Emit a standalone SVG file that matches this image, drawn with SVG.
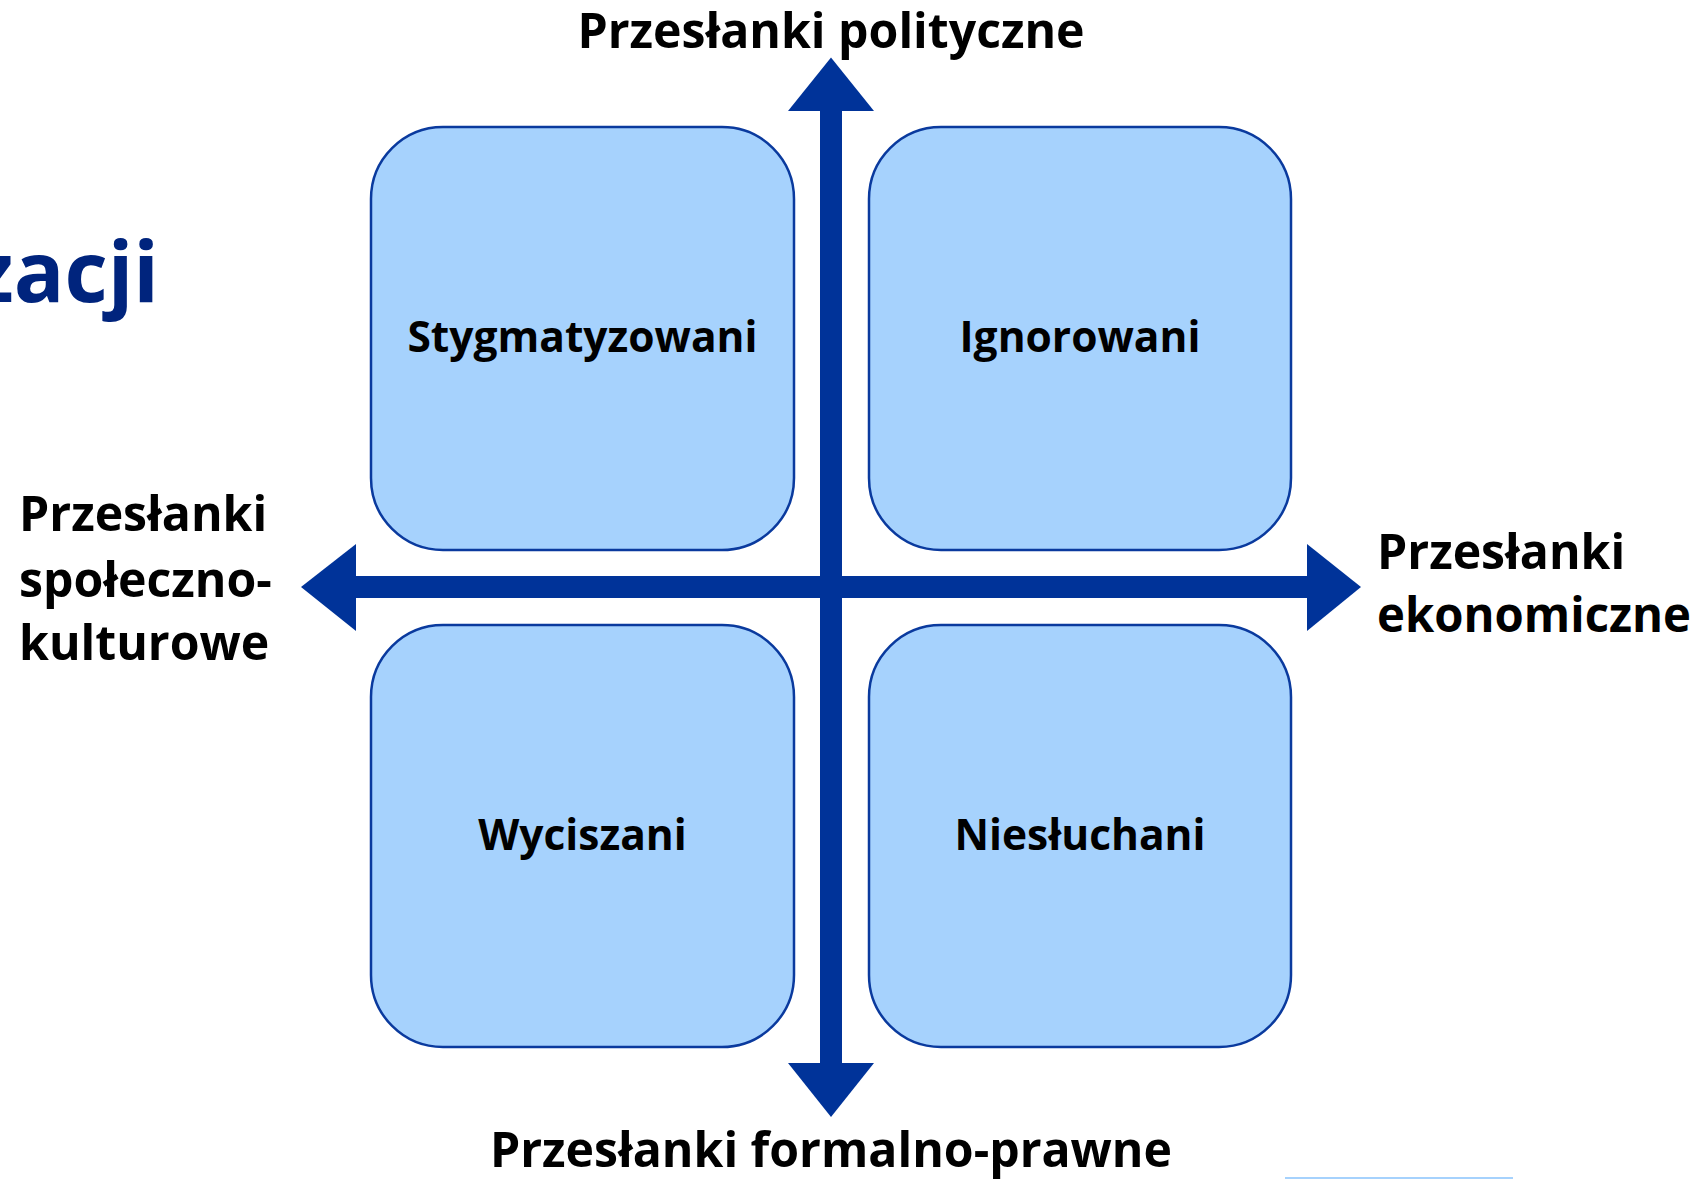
<svg xmlns="http://www.w3.org/2000/svg" width="1707" height="1179" viewBox="0 0 1707 1179">
<style>
.box{fill:#a6d2fd;stroke:#0a3a9e;stroke-width:2.5}
.lbl{font-family:"Open Sans","Noto Sans",sans-serif;font-weight:700;font-size:42.5px;fill:#000;text-anchor:middle}
.ax{font-family:"Open Sans","Noto Sans",sans-serif;font-weight:700;font-size:48.2px;fill:#000}
.arr{fill:#003399}
</style>
<rect width="1707" height="1179" fill="#fff"/>
<text x="159" y="302" style="font-family:'Open Sans','Noto Sans',sans-serif;font-weight:700;font-size:84px;fill:#00247d" text-anchor="end">zacji</text>
<g id="n-stygmatyzowani"><rect class="box" x="371" y="127" width="423" height="423" rx="72"/><text class="lbl" x="582.5" y="352">Stygmatyzowani</text></g>
<g id="n-ignorowani"><rect class="box" x="869" y="127" width="422" height="423" rx="72"/><text class="lbl" x="1080" y="352">Ignorowani</text></g>
<g id="n-wyciszani"><rect class="box" x="371" y="625" width="423" height="422" rx="72"/><text class="lbl" x="582.5" y="850">Wyciszani</text></g>
<g id="n-niesluchani"><rect class="box" x="869" y="625" width="422" height="422" rx="72"/><text class="lbl" x="1080" y="850">Niesłuchani</text></g>
<g id="connectors">
<rect class="arr" x="820" y="110" width="22" height="955"/>
<polygon class="arr" points="831,57.5 874,111 788,111"/>
<polygon class="arr" points="831,1117 874,1063 788,1063"/>
<rect class="arr" x="355" y="576" width="953" height="22"/>
<polygon class="arr" points="301,587 356,544 356,631"/>
<polygon class="arr" points="1361,587 1307,544 1307,631"/>
</g>
<g id="axis-labels">
<text class="ax" x="831" y="48" text-anchor="middle">Przesłanki polityczne</text>
<text class="ax" x="831" y="1167" text-anchor="middle">Przesłanki formalno-prawne</text>
<text class="ax" x="19" y="531">Przesłanki</text>
<text class="ax" x="19" y="597">społeczno-</text>
<text class="ax" x="19" y="660">kulturowe</text>
<text class="ax" x="1377" y="569">Przesłanki</text>
<text class="ax" x="1377" y="632" textLength="314" lengthAdjust="spacingAndGlyphs">ekonomiczne</text>
</g>
<rect x="1285" y="1177" width="228" height="3" fill="#a6d2fd"/>
</svg>
